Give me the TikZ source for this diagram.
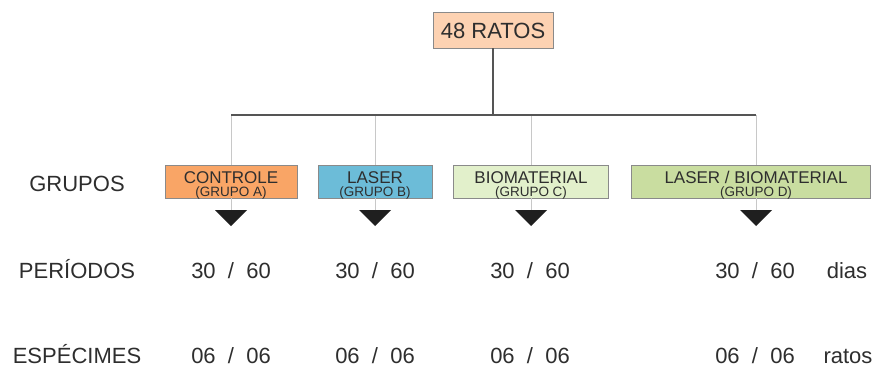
\documentclass[tikz,border=0pt]{standalone}
\usepackage{fontspec}
\setmainfont{Liberation Sans}
\definecolor{txt}{HTML}{2E2E2E}
\definecolor{peach}{HTML}{FDD2B2}
\definecolor{cA}{HTML}{F9A566}
\definecolor{cB}{HTML}{6CBCD8}
\definecolor{cC}{HTML}{E2F0CB}
\definecolor{cD}{HTML}{C9DDA0}
\definecolor{boxline}{HTML}{8A8A8A}
\definecolor{trunkc}{HTML}{555555}
\definecolor{branchc}{HTML}{C8C8C8}
\begin{document}
\begin{tikzpicture}[x=1pt,y=-1pt,every node/.style={text=txt,inner sep=0pt,outer sep=0pt}]
\useasboundingbox (0,0) rectangle (875,367);
\tikzset{
  grp/.style={draw=boxline,line width=0.8pt,minimum height=33pt},
  big/.style={font=\fontsize{22}{22}\selectfont,anchor=base},
  tone/.style={font=\fontsize{17}{17}\selectfont,anchor=base},
  ttwo/.style={font=\fontsize{13.5}{13.5}\selectfont,anchor=base},
  trunk/.style={draw=trunkc,line width=1.2pt},
  branch/.style={draw=branchc,line width=0.8pt},
  tri/.style={fill=black!88}
}
% top box
\node[draw=boxline,line width=0.8pt,fill=peach,minimum width=120pt,minimum height=36pt] (top) at (493,30) {};
\node[big] (toptxt) at (493,38) {48 RATOS};

% group boxes
\node[grp,fill=cA,minimum width=132pt] (bA) at (231,181.5) {};
\node[grp,fill=cB,minimum width=114pt] (bB) at (375,181.5) {};
\node[grp,fill=cC,minimum width=155pt] (bC) at (530.5,181.5) {};
\node[grp,fill=cD,minimum width=239pt] (bD) at (750.5,181.5) {};

% connector coordinates
\coordinate (j) at (493,115);
\coordinate (hA) at (231,115);
\coordinate (hB) at (375,115);
\coordinate (hC) at (531,115);
\coordinate (hD) at (756,115);
\coordinate (tA) at (231,210);
\coordinate (tB) at (375,210);
\coordinate (tC) at (531,210);
\coordinate (tD) at (756,210);

\foreach \h/\b/\t in {hA/bA/tA,hB/bB/tB,hC/bC/tC,hD/bD/tD}{
  \draw[branch] (\h) -- (\h |- \b.north);
  \draw[branch] (\t |- \b.south) -- (\t);
  \fill[tri] (\t) ++(-16,0) -- ++(32,0) -- ++(-16,16) -- cycle;
}
\draw[trunk] (top.south) -- (j);
\draw[trunk] (hA) -- (hD);

% box texts
\node[tone] (lA1) at (231,183.5) {CONTROLE};
\node[ttwo] (lA2) at (231,196) {(GRUPO A)};
\node[tone] (lB1) at (375,183.5) {LASER};
\node[ttwo] (lB2) at (375,196) {(GRUPO B)};
\node[tone] (lC1) at (531,183.5) {BIOMATERIAL};
\node[ttwo] (lC2) at (531,196) {(GRUPO C)};
\node[tone] (lD1) at (756,183.5) {LASER / BIOMATERIAL};
\node[ttwo] (lD2) at (756,196) {(GRUPO D)};

% row labels
\node[big] (rg) at (77,191) {GRUPOS};
\node[big] (rp) at (77,278) {PERÍODOS};
\node[big] (re) at (77,363) {ESPÉCIMES};

% periods
\node[big] (pA) at (231,278) {30~~/~~60};
\node[big] (pB) at (375,278) {30~~/~~60};
\node[big] (pC) at (530,278) {30~~/~~60};
\node[big] (pD) at (755,278) {30~~/~~60};
\node[big] (pu) at (847,278) {dias};

% specimens
\node[big] (sA) at (231,363) {06~~/~~06};
\node[big] (sB) at (375,363) {06~~/~~06};
\node[big] (sC) at (530,363) {06~~/~~06};
\node[big] (sD) at (755,363) {06~~/~~06};
\node[big] (su) at (848,363) {ratos};
\end{tikzpicture}
\end{document}
